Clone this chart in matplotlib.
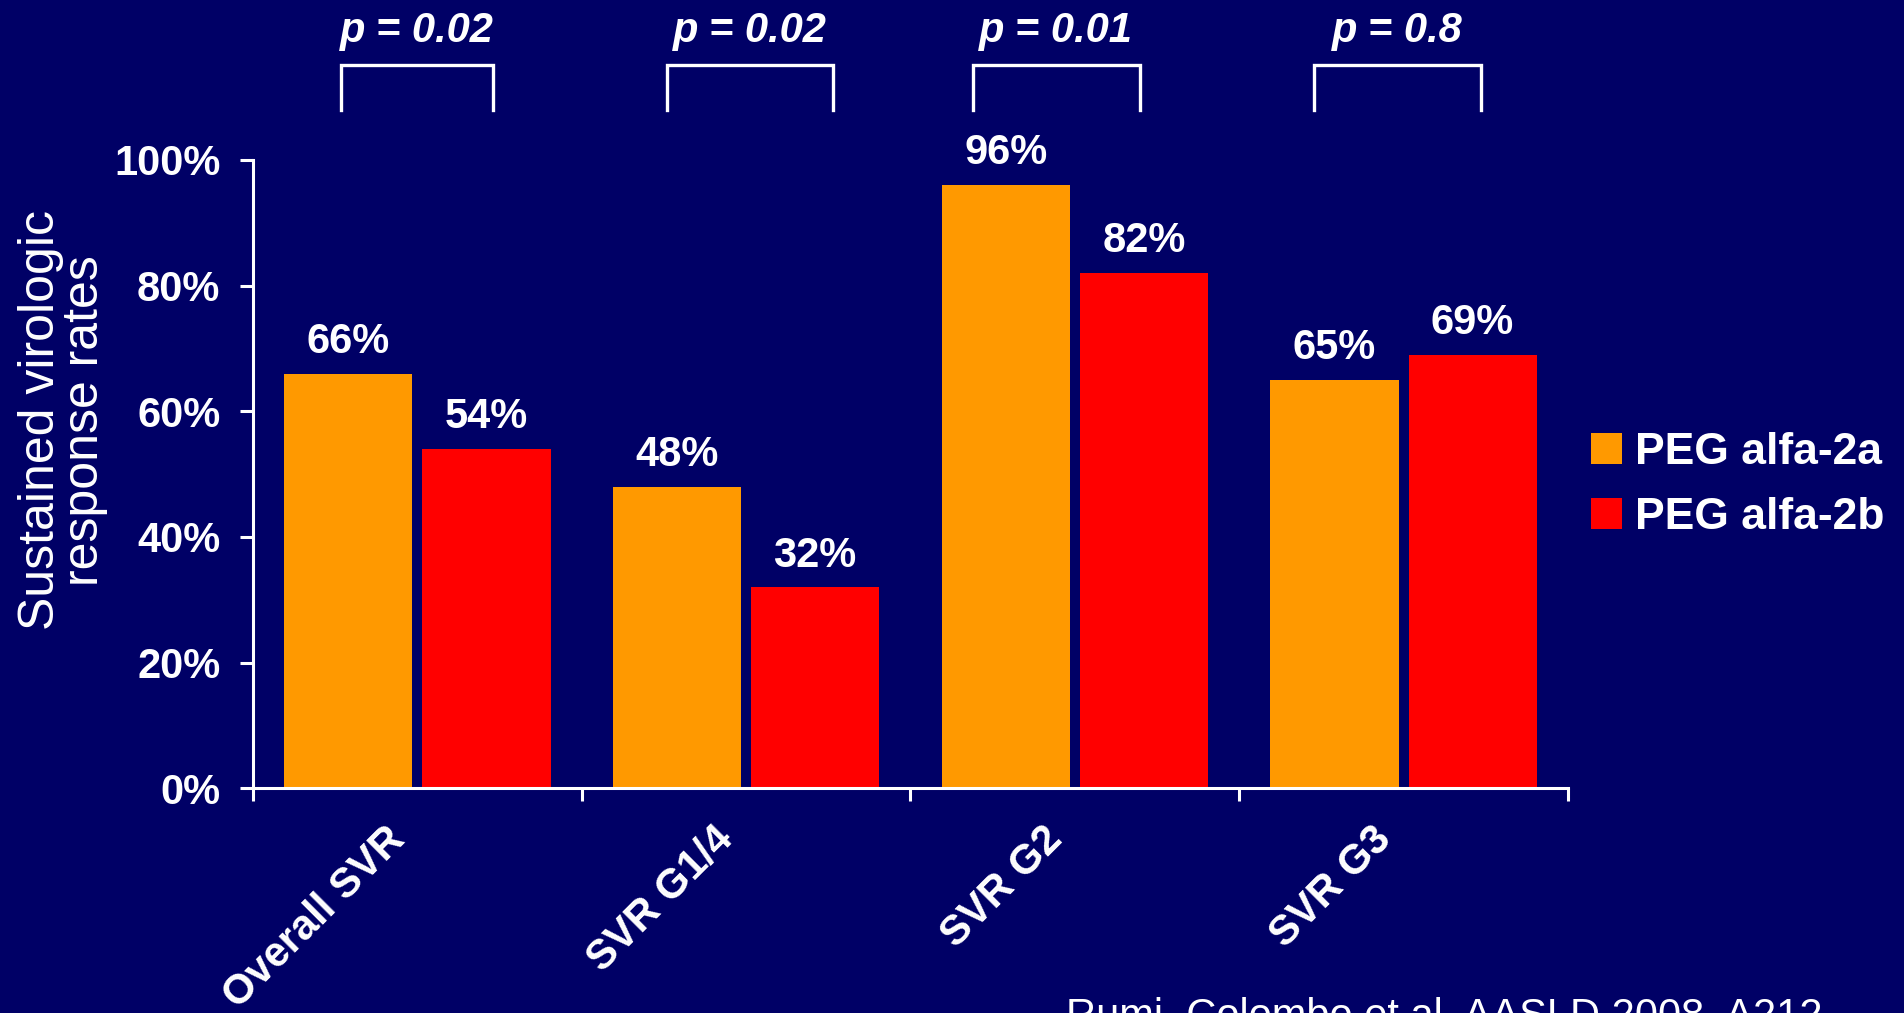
import matplotlib
matplotlib.use('Agg')
import matplotlib.pyplot as plt
import numpy as np

plt.rcParams['font.family'] = ['Liberation Sans', 'DejaVu Sans']

categories = ['Overall SVR', 'SVR G1/4', 'SVR G2', 'SVR G3']
peg_2a = [66, 48, 96, 65]
peg_2b = [54, 32, 82, 69]
p_values = ['0.02', '0.02', '0.01', '0.8']
series_names = ['PEG alfa-2a', 'PEG alfa-2b']

# bracket spans over each pair, in category units
bracket_left = [0.267, 1.258, 2.189, 3.227]
bracket_right = [0.729, 1.764, 2.698, 3.735]

bg = '#000066'
fig = plt.figure(figsize=(19.04, 10.13), dpi=100, facecolor=bg)
ax = fig.add_axes([0.1329, 0.2217, 0.6906, 0.6205])
ax.set_facecolor(bg)

x = np.arange(len(categories)) + 0.5
w = 0.39
b1 = ax.bar(x - 0.21, peg_2a, w, color='#FF9900', label=series_names[0])
b2 = ax.bar(x + 0.21, peg_2b, w, color='#FF0000', label=series_names[1])

for bars, vals in ((b1, peg_2a), (b2, peg_2b)):
    for rect, v in zip(bars, vals):
        ax.text(rect.get_x() + rect.get_width() / 2, v + 3.3, f'{v}%',
                ha='center', va='baseline', fontsize=30, fontweight='bold',
                color='white')

# significance brackets
for l, r, p in zip(bracket_left, bracket_right, p_values):
    ax.plot([l, l, r, r], [107.9, 115.1, 115.1, 107.9], color='white',
            lw=2.4, clip_on=False, solid_joinstyle='miter')
    ax.text((l + r) / 2, 118.8, f'p = {p}', ha='center', va='baseline',
            fontsize=30, fontweight='bold', style='italic', color='white')

ax.set_xlim(0, 4)
ax.set_ylim(0, 100)
ax.set_yticks(range(0, 101, 20))
ax.set_yticklabels([f'{v}%' for v in range(0, 101, 20)],
                   fontsize=30, fontweight='bold', color='white')
ax.set_xticks(np.arange(5))
ax.set_xticklabels([])
# slanted category labels sit on invisible minor ticks, a bit left of centre
ax.set_xticks(x - 0.1, categories, minor=True, rotation=45, ha='right',
              rotation_mode='anchor', fontsize=30, fontweight='bold',
              color='white')

for side in ('top', 'right'):
    ax.spines[side].set_visible(False)
for side in ('left', 'bottom'):
    ax.spines[side].set_color('white')
    ax.spines[side].set_linewidth(2.2)
ax.tick_params(axis='both', which='major', direction='out', length=9.5,
               width=2.2, color='white')
ax.tick_params(axis='y', pad=14)
ax.tick_params(axis='x', which='minor', length=0, pad=22)

ax.legend(handles=[b1, b2], loc='upper left',
          bbox_to_anchor=(0.8356, 0.5734), bbox_transform=fig.transFigure,
          frameon=False, prop={'size': 32, 'weight': 'bold'},
          labelcolor='white', handlelength=0.7, handleheight=0.7,
          handletextpad=0.3, labelspacing=0.53, borderpad=0, borderaxespad=0)

fig.text(0.033, 0.585, 'Sustained virologic\nresponse rates', rotation=90,
         ha='center', va='center', fontsize=36, color='white',
         linespacing=0.95)

fig.text(1066 / 1904, -0.0148, 'Rumi, Colombo et al. AASLD 2008, A212',
         ha='left', va='baseline', fontsize=30, color='white')

fig.savefig('out.png', dpi=100, facecolor=bg)
